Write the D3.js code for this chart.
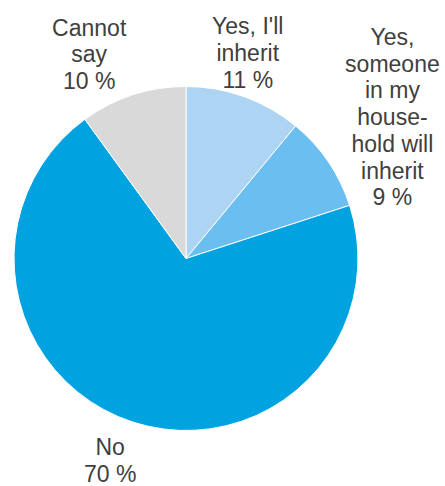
<!DOCTYPE html>
<html>
<head>
<meta charset="utf-8">
<script src="https://cdn.jsdelivr.net/npm/d3@7"></script>
<style>
  html, body { margin: 0; padding: 0; background: #fff; }
  svg text { font-family: "Liberation Sans", Arial, sans-serif; }
</style>
</head>
<body>
<div id="pie_chart"></div>
<script>
// chart data
var categories = ["Yes, I'll inherit", "Yes, someone in my household will inherit", "No", "Cannot say"];
var values = [11, 9, 70, 10];
var labelLines = [
    ["Yes, I'll", "inherit"],
    ["Yes,", "someone", "in my", "house-", "hold will", "inherit"],
    ["No"],
    ["Cannot", "say"]
];

var w = 445, h = 486;
var cx = 186, cy = 258.5, outerRadius = 172;
var color = d3.scaleOrdinal(["#aed4f4", "#6bbef0", "#00a3e0", "#d9d9d9"]);
var textColor = "#404040";
var fontSize = 23, lineHeight = 26.7;
var labelRadius = 200;
// nudges for the label blocks, relative to the label arc point
var nudge = [[-6, -17.5], [41, -29], [-14, 12], [-35, -14]];

var svg = d3.select("#pie_chart")
    .append("svg")
    .attr("width", w)
    .attr("height", h);

var pie = d3.pie()
    .sort(null)
    .value(function (d) { return d; });

var arc = d3.arc()
    .innerRadius(0)
    .outerRadius(outerRadius);

var labelArc = d3.arc()
    .innerRadius(labelRadius)
    .outerRadius(labelRadius);

var slices = pie(values);

var g = svg.append("g")
    .attr("transform", "translate(" + cx + "," + cy + ")");

g.selectAll("path.slice")
    .data(slices)
    .enter()
    .append("path")
    .attr("class", "slice")
    .attr("d", arc)
    .attr("fill", function (d, i) { return color(i); })
    .attr("stroke", "#fff")
    .attr("stroke-width", 1);

// Labels
var labels = g.selectAll("text.label")
    .data(slices)
    .enter()
    .append("text")
    .attr("class", "label")
    .attr("text-anchor", "middle")
    .style("fill", textColor)
    .style("font-size", fontSize + "px")
    .attr("transform", function (d, i) {
        var c = labelArc.centroid(d);
        return "translate(" + (c[0] + nudge[i][0]) + "," + (c[1] + nudge[i][1]) + ")";
    });

labels.each(function (d, i) {
    var lines = labelLines[i].concat([d.data + " %"]);
    var n = lines.length;
    var y0 = -(n - 1) / 2 * lineHeight + fontSize * 0.35;
    d3.select(this).selectAll("tspan")
        .data(lines)
        .enter()
        .append("tspan")
        .attr("x", 0)
        .attr("y", function (t, k) { return y0 + k * lineHeight; })
        .text(function (t) { return t; });
});
</script>
</body>
</html>
